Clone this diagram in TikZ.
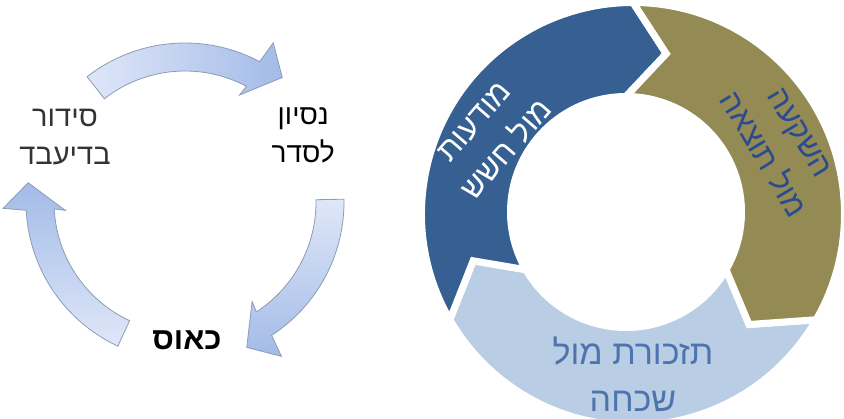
\documentclass[tikz,border=0pt]{standalone}
\usepackage{fontspec}
\setmainfont{Liberation Sans}
\newfontfamily\heb[Script=Hebrew]{Liberation Sans}
\TeXXeTstate=1
\usetikzlibrary{calc}
\definecolor{segblue}{HTML}{366092}
\definecolor{segolive}{HTML}{948A54}
\definecolor{seglight}{HTML}{B9CDE5}
\definecolor{txtolive}{HTML}{2A4B90}
\definecolor{txtlight}{HTML}{4D74AE}
\definecolor{arrpale}{HTML}{DFE7F8}
\definecolor{arrblue}{HTML}{A3BBE8}
\definecolor{arredge}{HTML}{8C9CB5}
\definecolor{txtgray}{HTML}{333333}
\newcommand\ringseg[3]{%
  \path[ringpart,fill=#3] ($(O1)+(#1:211.5)$) arc[start angle=#1, end angle=#2, radius=211.5]
    -- ($(Om)+({#2+13}:163.5)$) -- ($(O2)+(#2:115.5)$)
    arc[start angle=#2, end angle=#1, radius=115.5]
    -- ($(Om)+({#1+13}:163.5)$) -- cycle;}
\newcommand\cyclearrow[3]{%
  \path[arrowpart,#3] ($(AC)+(#1:159)$) arc[start angle=#1, end angle=#2, radius=159]
    -- ($(AC)+({#2+1}:182)$) -- ($(AC)+({#2+10}:158)$) -- ($(AC)+({#2-1}:120)$)
    -- ($(AC)+(#2:131)$) arc[start angle=#2, end angle=#1, radius=131] -- cycle;}
\begin{document}
\begin{tikzpicture}[x=1pt,y=-1pt,
  ringpart/.style={draw=white, line width=7},
  arrowpart/.style={draw=arredge, line width=0.8},
  lefttext/.style={font=\heb\fontsize{28}{38}\selectfont, align=center, inner sep=0},
  segtext/.style={font=\heb\fontsize{31}{43}\selectfont, align=center, inner sep=0},
  bottext/.style={font=\heb\fontsize{34}{47}\selectfont, align=center, inner sep=0}]
\useasboundingbox (0,0) rectangle (844,419);
\clip (0,0) rectangle (844,419);
\coordinate (O1) at (633,214);
\coordinate (O2) at (626,212);
\coordinate (Om) at (629.5,213);
\coordinate (AC) at (185,202);
% right ring
\ringseg{30}{150}{seglight}
\ringseg{150}{270}{segblue}
\ringseg{270}{390}{segolive}
\node[segtext, text=white, rotate=49] (aware) at (491,136) {\beginR מודעות\endR\\\beginR מול חשש\endR};
\node[segtext, text=txtolive, rotate=-59] (invest) at (781,144) {\beginR השקעה\endR\\\beginR מול תוצאה\endR};
\node[bottext, text=txtlight] (remind) at (633,374) {\beginR תזכורת מול\endR\\\beginR שכחה\endR};
% left cycle
\cyclearrow{232}{298}{left color=arrpale, right color=arrblue}
\cyclearrow{359}{417}{top color=arrpale, bottom color=arrblue}
\cyclearrow{115}{177}{top color=arrblue, bottom color=arrpale}
\node[lefttext, font=\heb\fontsize{29}{38}\selectfont, text=txtgray] (after) at (65,137) {\beginR סידור\endR\\\beginR בדיעבד\endR};
\node[lefttext, text=black, anchor=east] (try) at (335,135) {\beginR נסיון\endR\\\beginR לסדר\endR};
\node[lefttext, font=\heb\bfseries\fontsize{31}{38}\selectfont, text=black] (chaos) at (187,340) {\beginR כאוס\endR};
\end{tikzpicture}
\end{document}
